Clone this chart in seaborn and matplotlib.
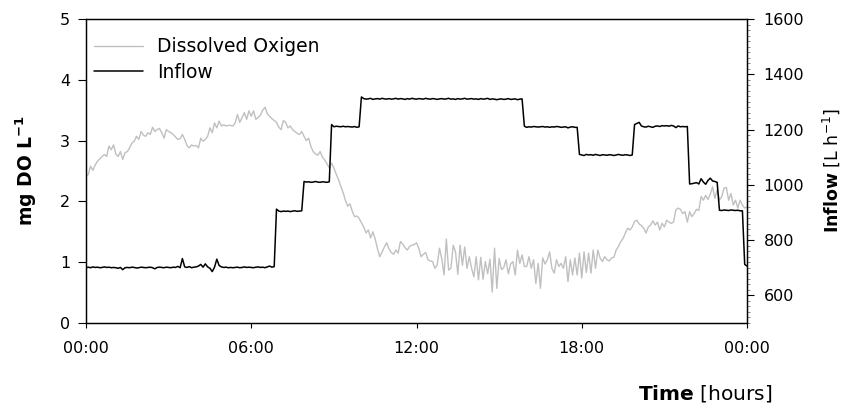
import numpy as np
import pandas as pd
import matplotlib
matplotlib.use("Agg")
import matplotlib.pyplot as plt
from matplotlib.ticker import MultipleLocator, FixedLocator
import seaborn as sns

# ---- data (5-minute samples over 24 h) ----
time_min = np.arange(0, 1441, 5)

dissolved_oxygen = [
    2.42, 2.44, 2.58, 2.51, 2.60, 2.66, 2.70, 2.74, 2.77, 2.74, 2.91, 2.85,
    2.93, 2.78, 2.74, 2.82, 2.69, 2.80, 2.82, 2.88, 2.96, 2.99, 3.07, 3.02,
    3.15, 3.09, 3.07, 3.13, 3.10, 3.22, 3.15, 3.18, 3.20, 3.13, 3.04, 3.18,
    3.15, 3.13, 3.10, 3.06, 3.02, 3.03, 3.10, 3.02, 2.92, 2.88, 2.93, 2.91,
    2.92, 2.88, 3.04, 2.99, 3.02, 3.07, 3.21, 3.13, 3.29, 3.21, 3.32, 3.24,
    3.26, 3.24, 3.25, 3.25, 3.24, 3.29, 3.43, 3.30, 3.38, 3.46, 3.35, 3.49,
    3.40, 3.49, 3.35, 3.38, 3.42, 3.50, 3.55, 3.44, 3.40, 3.36, 3.33, 3.30,
    3.22, 3.18, 3.33, 3.30, 3.21, 3.24, 3.18, 3.15, 3.12, 3.10, 3.15, 3.07,
    3.00, 3.04, 2.90, 2.82, 2.78, 2.76, 2.82, 2.73, 2.68, 2.62, 2.55, 2.63,
    2.55, 2.45, 2.36, 2.25, 2.15, 2.02, 1.92, 1.96, 1.84, 1.75, 1.76, 1.72,
    1.65, 1.58, 1.48, 1.53, 1.40, 1.50, 1.38, 1.22, 1.09, 1.17, 1.25, 1.32,
    1.22, 1.16, 1.13, 1.20, 1.15, 1.34, 1.30, 1.24, 1.20, 1.26, 1.28, 1.29,
    1.32, 1.23, 1.09, 1.13, 1.16, 1.04, 1.02, 1.01, 0.90, 0.95, 1.23, 1.06,
    0.79, 1.38, 0.87, 0.90, 1.28, 1.17, 0.80, 1.28, 0.95, 1.25, 0.90, 1.09,
    0.90, 0.76, 1.09, 0.71, 1.08, 0.72, 1.01, 0.81, 1.05, 0.51, 1.23, 0.57,
    1.06, 0.88, 0.91, 1.04, 0.81, 0.97, 1.01, 0.79, 1.20, 0.98, 1.12, 0.93,
    0.93, 1.09, 0.90, 1.04, 0.65, 0.98, 0.57, 1.07, 0.97, 1.04, 1.17, 0.90,
    0.82, 1.04, 0.93, 0.98, 0.90, 1.09, 0.68, 1.04, 0.79, 1.07, 0.79, 1.15,
    0.74, 1.17, 0.83, 1.15, 0.82, 1.20, 0.90, 1.20, 1.07, 1.01, 1.09, 1.04,
    1.02, 1.07, 1.08, 1.20, 1.26, 1.34, 1.39, 1.48, 1.56, 1.53, 1.58, 1.67,
    1.69, 1.63, 1.60, 1.56, 1.48, 1.58, 1.61, 1.68, 1.61, 1.66, 1.53, 1.64,
    1.58, 1.69, 1.66, 1.64, 1.66, 1.86, 1.89, 1.87, 1.80, 1.83, 1.66, 1.83,
    1.75, 1.80, 1.87, 1.85, 2.08, 2.02, 2.10, 2.03, 2.12, 2.24, 2.05, 2.19,
    2.02, 2.08, 2.22, 2.23, 2.02, 2.13, 1.94, 2.02, 1.89, 2.02, 1.94, 1.89,
    1.91,
]

inflow = [
    700, 702, 700, 703, 701, 702, 700, 701, 703, 701, 702, 700,
    701, 700, 698, 701, 693, 700, 701, 700, 702, 701, 699, 700,
    702, 701, 700, 701, 702, 700, 696, 701, 702, 701, 700, 702,
    701, 700, 702, 701, 705, 700, 733, 703, 701, 704, 700, 702,
    703, 706, 712, 702, 714, 703, 698, 686, 702, 731, 708, 703,
    701, 702, 700, 701, 700, 701, 702, 700, 701, 703, 701, 702,
    701, 700, 702, 703, 701, 702, 700, 703, 706, 702, 704, 912,
    905, 903, 905, 904, 905, 903, 905, 906, 904, 905, 906, 1012,
    1010, 1011, 1009, 1010, 1012, 1010, 1009, 1011, 1010, 1009, 1011, 1218,
    1210, 1212, 1211, 1210, 1212, 1210, 1211, 1210, 1209, 1211, 1208, 1210,
    1318, 1312, 1310, 1311, 1313, 1309, 1311, 1312, 1310, 1313, 1311, 1310,
    1312, 1310, 1311, 1313, 1310, 1312, 1311, 1309, 1312, 1310, 1313, 1311,
    1310, 1312, 1311, 1310, 1313, 1311, 1310, 1312, 1311, 1309, 1311, 1312,
    1310, 1311, 1313, 1310, 1311, 1309, 1312, 1310, 1311, 1313, 1310, 1311,
    1312, 1310, 1311, 1309, 1312, 1310, 1311, 1313, 1309, 1311, 1310, 1308,
    1310, 1311, 1309, 1310, 1312, 1309, 1310, 1311, 1308, 1310, 1311, 1212,
    1208, 1210, 1209, 1211, 1210, 1209, 1210, 1211, 1209, 1210, 1208, 1210,
    1209, 1211, 1210, 1208, 1209, 1210, 1206, 1209, 1210, 1208, 1208, 1110,
    1108, 1106, 1110, 1108, 1109, 1107, 1110, 1108, 1106, 1109, 1108, 1107,
    1109, 1108, 1106, 1108, 1110, 1108, 1107, 1109, 1108, 1106, 1108, 1218,
    1222, 1226, 1213, 1210, 1209, 1212, 1210, 1208, 1212, 1213, 1211, 1214,
    1213, 1214, 1212, 1215, 1213, 1207, 1213, 1210, 1211, 1210, 1211, 1003,
    1004, 1006, 1008, 1003, 1022, 1010, 1002, 1016, 1024, 1014, 1012, 1009,
    908, 907, 909, 908, 907, 909, 908, 907, 908, 906, 906, 712,
    706,
]

x_ticks = [0, 6, 12, 18, 24]
x_tick_labels = ["00:00", "06:00", "12:00", "18:00", "00:00"]
do_ticks = [0, 1, 2, 3, 4, 5]
inflow_ticks = [600, 800, 1000, 1200, 1400, 1600]

df = pd.DataFrame({
    "hours": time_min / 60.0,
    "do": dissolved_oxygen,
    "inflow": inflow,
})

# ---- style ----
sns.set_style("ticks")
plt.rcParams["font.family"] = ["DejaVu Sans"]
plt.rcParams["mathtext.fontset"] = "dejavusans"
plt.rcParams["text.color"] = "black"
plt.rcParams["axes.labelcolor"] = "black"
plt.rcParams["xtick.color"] = "black"
plt.rcParams["ytick.color"] = "black"

fig = plt.figure(figsize=(8.41, 4.05), dpi=100)
ax = fig.add_axes([86 / 841, 82 / 405, 661 / 841, 304 / 405])
ax2 = ax.twinx()

sns.lineplot(data=df, x="hours", y="do", ax=ax, color="#c0c0c0",
             linewidth=1.0, label="Dissolved Oxigen", legend=False)
sns.lineplot(data=df, x="hours", y="inflow", ax=ax2, color="black",
             linewidth=1.1, label="Inflow", legend=False)

ax.set_xlim(0, 24)
ax.set_ylim(0, 5)
ax2.set_ylim(500, 1600)

ax.set_xticks(x_ticks)
ax.set_xticklabels(x_tick_labels)
ax.set_yticks(do_ticks)
ax2.yaxis.set_major_locator(FixedLocator(inflow_ticks))
ax2.yaxis.set_minor_locator(MultipleLocator(20))

for a in (ax, ax2):
    for s in a.spines.values():
        s.set_visible(True)
        s.set_linewidth(0.9)
        s.set_color("black")

ax.tick_params(axis="x", direction="out", length=3.8, width=0.8, pad=9.5,
               labelsize=11.5, colors="black")
ax.tick_params(axis="y", direction="out", length=5.5, width=0.8, pad=6,
               labelsize=11.5, colors="black")
ax2.tick_params(axis="y", which="major", direction="out", length=5, width=0.8,
                pad=7, labelsize=11.5, colors="black")
ax2.tick_params(axis="y", which="minor", direction="out", length=2, width=0.5,
                colors="#555555")

ax.set_ylabel(r"mg DO L$^{\mathbf{-1}}$", fontsize=13.5, fontweight="bold",
              color="black")
ax.yaxis.label.set_verticalalignment("center")
ax.yaxis.set_label_coords((26.5 - 86) / 661, 0.5)
ax2.set_ylabel(r"$\mathbf{Inflow}$ [L h$^{-1}$]", fontsize=12.5, color="black")
ax2.yaxis.label.set_verticalalignment("center")
ax2.yaxis.set_label_coords((831.5 - 86) / 661, 0.5)
ax.set_xlabel(r"$\mathbf{Time}$ [hours]", fontsize=14.5, color="black")
ax.xaxis.label.set_verticalalignment("center")
ax.xaxis.set_label_coords((705 - 86) / 661, (323 - 393) / 304)

h1, l1 = ax.get_legend_handles_labels()
h2, l2 = ax2.get_legend_handles_labels()
leg = ax2.legend(h1 + h2, l1 + l2, loc="upper left",
                 bbox_to_anchor=(0.012, 0.94), frameon=False, fontsize=13.5,
                 handlelength=2.6, handletextpad=0.75, labelspacing=0.35,
                 borderpad=0, borderaxespad=0, labelcolor="black")

fig.savefig("out.png", dpi=100)
